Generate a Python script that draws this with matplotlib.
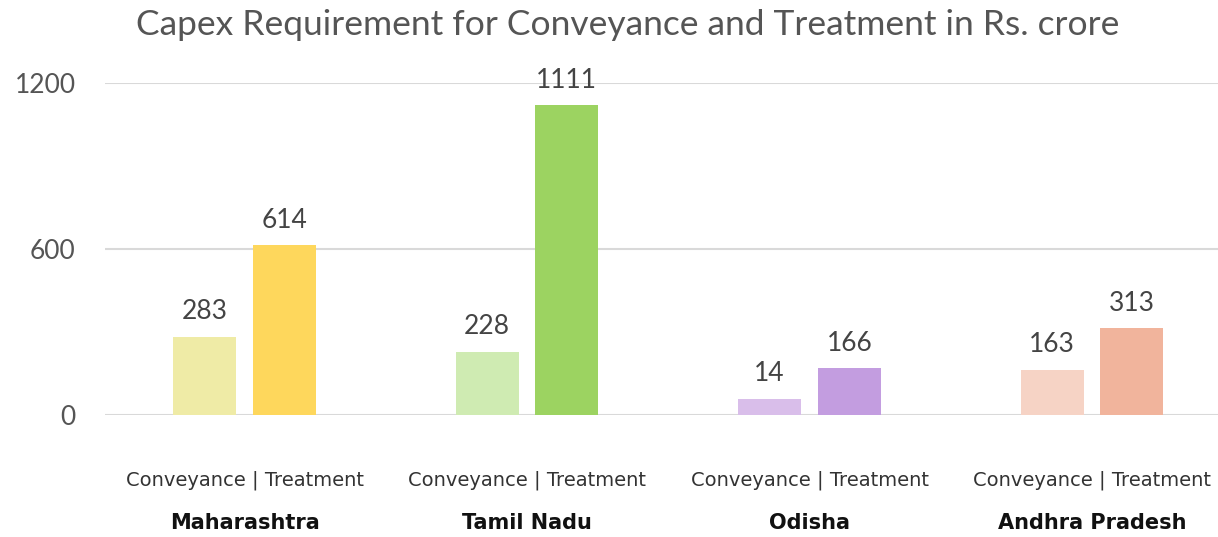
import matplotlib.pyplot as plt

# values (Rs. crore)
states = ['Maharashtra', 'Tamil Nadu', 'Odisha', 'Andhra Pradesh']
conveyance = [283, 228, 58, 163]          # bar heights as drawn
treatment = [614, 1120, 170, 314]
conveyance_labels = ['283', '228', '14', '163']   # printed labels
treatment_labels = ['614', '1111', '166', '313']
yticks = [0, 600, 1200]

conv_colors = ['#EFEBA6', '#CFEBB2', '#D9BEEA', '#F6D3C5']
treat_colors = ['#FED75C', '#9CD361', '#C39DE0', '#F1B49C']

fig = plt.figure(figsize=(12.18, 5.37), dpi=100)
ax = fig.add_axes([0.0862, 0.2272, 0.9138, 0.6182])

x = list(range(len(states)))
w = 0.223
off = 0.141

ax.bar([i - off for i in x], conveyance, width=w, color=conv_colors, zorder=3)
ax.bar([i + off for i in x], treatment, width=w, color=treat_colors, zorder=3)

num_font = dict(family='Lato', fontsize=19, color='#444444')
for i in x:
    ax.text(i - off, conveyance[i] + 45, conveyance_labels[i], ha='center', va='bottom', **num_font)
    ax.text(i + off, treatment[i] + 45, treatment_labels[i], ha='center', va='bottom', **num_font)

ax.set_xlim(-0.494, 3.446)
ax.set_ylim(0, 1200)
ax.set_yticks(yticks)
ax.set_yticklabels([str(t) for t in yticks], fontfamily='Lato', fontsize=19, color='#555555')
ax.tick_params(axis='y', length=0, pad=21)
ax.set_xticks([])
ax.grid(axis='y', color='#D9D9D9', linewidth=1.5, zorder=0)
for s in ax.spines.values():
    s.set_visible(False)

for i in x:
    ax.text(i, -235, 'Conveyance | Treatment', ha='center', va='center',
            fontfamily='DejaVu Sans', fontsize=14, color='#333333')
    ax.text(i, -392, states[i], ha='center', va='center',
            fontfamily='DejaVu Sans', fontweight='bold', fontsize=15, color='#111111')

fig.text(0.515, 0.953, 'Capex Requirement for Conveyance and Treatment in Rs. crore',
         ha='center', va='center', fontfamily='Lato', fontsize=25.5, color='#555555')

plt.savefig('out.png', dpi=100)
